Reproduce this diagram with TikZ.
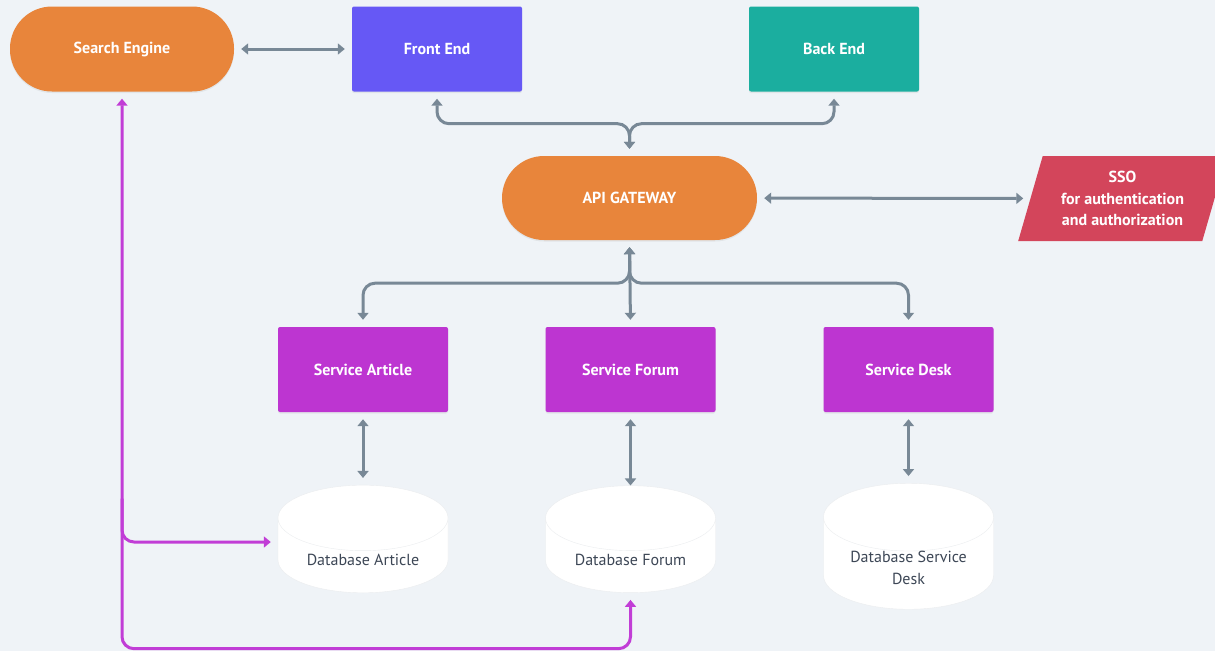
\documentclass[tikz,border=0pt]{standalone}
\usepackage{fontspec}
\setmainfont{PT Sans}
\usetikzlibrary{arrows.meta,shapes.geometric,shadows}
\definecolor{bgcol}{HTML}{EFF3F7}
\definecolor{enginecol}{HTML}{E8853B}
\definecolor{frontcol}{HTML}{6658F5}
\definecolor{backcol}{HTML}{1BAE9F}
\definecolor{ssocol}{HTML}{D3455B}
\definecolor{servicecol}{HTML}{BD35D1}
\definecolor{linkcol}{HTML}{788896}
\definecolor{searchcol}{HTML}{C13DD6}
\definecolor{dbtext}{HTML}{3D4756}
\tikzset{
  head/.tip={Triangle[length=7pt,width=11pt]},
  box/.style={rectangle, rounded corners=2pt, minimum width=170pt, minimum height=85pt,
    text=white, font=\bfseries\fontsize{16}{21}\selectfont,
    drop shadow={opacity=0.12, shadow xshift=0pt, shadow yshift=-1.5pt}},
  pill/.style={box, rounded corners=42pt, fill=enginecol},
  sso/.style={trapezium, trapezium left angle=72, trapezium right angle=108,
    trapezium stretches=true, minimum width=209pt, minimum height=85pt,
    fill=ssocol, text=white, align=center, font=\bfseries\fontsize{16}{21.5}\selectfont},
  dbase/.style={cylinder, shape border rotate=90, aspect=0.55, minimum width=170pt,
    minimum height=107pt, draw=linkcol!15, fill=white, text=dbtext, align=center,
    font=\fontsize{16}{22}\selectfont},
  link/.style={draw=linkcol, line width=3pt, head-head, shorten >=7pt, shorten <=7pt},
}
\begin{document}
\begin{tikzpicture}[x=1pt,y=-1pt]
  \fill[bgcol] (0,0) rectangle (1215,651);
  \useasboundingbox (0,0) rectangle (1215,651);
  \path
    (122,49) node[pill, minimum width=224pt] (search){Search Engine}
    (437,49) node[box, fill=frontcol] (front){Front End}
    (834,49) node[box, fill=backcol] (back){Back End}
    (629.5,198) node[pill, minimum width=255pt, minimum height=84pt] (api){API GATEWAY}
    (1122.5,198.5) node[sso] (sso){SSO\\for authentication\\and authorization}
    (363,369.5) node[box, fill=servicecol] (article){Service Article}
    (630.5,369.5) node[box, fill=servicecol] (forum){Service Forum}
    (908.5,369.5) node[box, fill=servicecol] (desk){Service Desk}
    (363,560) node[dbase] (dbarticle){Database Article}
    (630.5,560) node[dbase] (dbforum){Database Forum}
    (908.5,568) node[dbase, minimum height=118pt, inner ysep=0pt] (dbdesk){Database Service\\Desk};
  \begin{scope}[link]
    \draw (search) -- (front);
    \draw[rounded corners=12pt] (front.south) -- ++(0,32) -| (api.north);
    \draw[rounded corners=12pt] (back.south) -- ++(0,32) -| (api.north);
    \draw (api) -- (sso);
    \draw[rounded corners=12pt] (api.south) -- ++(0,43) -| (article.north);
    \draw (api.south) -- (forum.north);
    \draw[rounded corners=12pt] (api.south) -- ++(0,43) -| (desk.north);
    \draw (article) -- (dbarticle);
    \draw[shorten >=0pt] (forum) -- (dbforum);
    \draw (desk) -- (dbdesk);
  \end{scope}
  \begin{scope}[link, draw=searchcol, rounded corners=12pt]
    \draw (search.south) -- ++(0,557) -| (dbforum.south);
    \draw[-head] (search.south) ++(0,400) |- ([yshift=18pt]dbarticle.west);
  \end{scope}
\end{tikzpicture}
\end{document}
